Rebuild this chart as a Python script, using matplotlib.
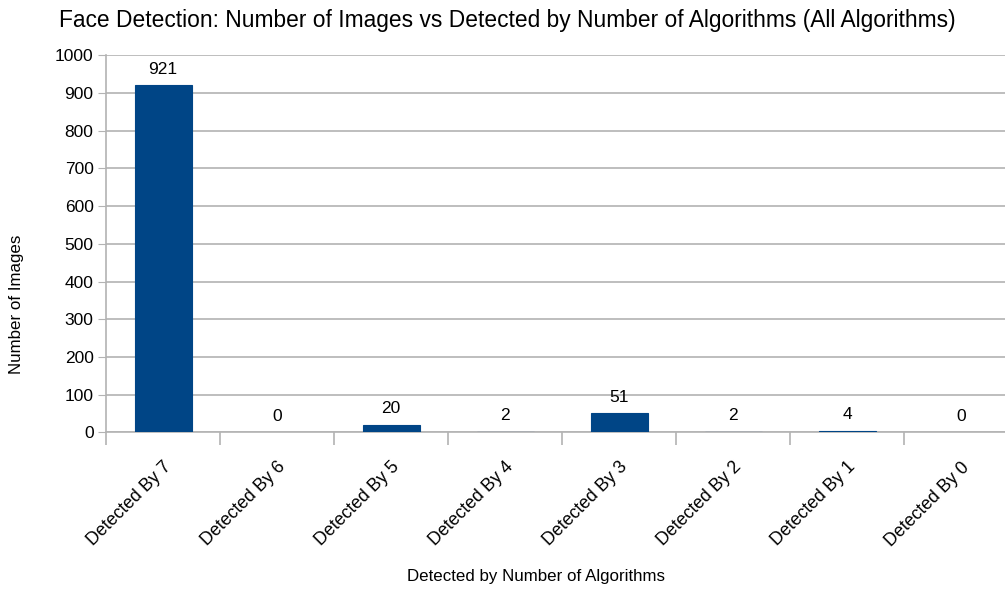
import numpy as np
import matplotlib.pyplot as plt

plt.rcParams['font.family'] = ['Liberation Sans', 'DejaVu Sans']

# Data
categories = ['Detected By 7', 'Detected By 6', 'Detected By 5', 'Detected By 4',
              'Detected By 3', 'Detected By 2', 'Detected By 1', 'Detected By 0']
counts = [921, 0, 20, 2, 51, 2, 4, 0]

bar_color = '#004586'
grid_color = '#b3b3b3'

fig = plt.figure(figsize=(10.05, 5.91), dpi=100)
ax = fig.add_axes([106 / 1005, 1 - 432.3 / 591, 912 / 1005, 377 / 591])

x = np.arange(len(categories))
# thin edge so the tiny bars (2, 4) stay visible as in the original
ax.bar(x, counts, width=0.5, color=bar_color, edgecolor=bar_color,
       linewidth=[0.8 if v > 0 else 0 for v in counts], zorder=3)

ax.set_xlim(-0.5, len(categories) - 0.5)
ax.set_ylim(0, 1000)
ax.set_yticks(np.arange(0, 1001, 100))
ax.tick_params(axis='y', labelsize=12.5, length=6, color=grid_color, pad=3)
ax.yaxis.grid(True, color=grid_color, linewidth=1.2, zorder=0)

# category labels at centres, tick marks at boundaries
ax.set_xticks(x)
ax.set_xticklabels(categories, rotation=45, ha='right', rotation_mode='anchor', fontsize=12.8)
ax.tick_params(axis='x', length=0, pad=19)
ax.set_xticks(np.arange(-0.5, len(categories), 1), minor=True)
ax.tick_params(axis='x', which='minor', length=9, color=grid_color, width=1.2)

for s in ['top', 'right']:
    ax.spines[s].set_visible(False)
for s in ['left', 'bottom']:
    ax.spines[s].set_color(grid_color)
    ax.spines[s].set_linewidth(1.2)

# value labels
for xi, v in zip(x, counts):
    ax.annotate(str(v), (xi, v), xytext=(0, 6), textcoords='offset points',
                ha='center', va='bottom', fontsize=12.5)

fig.text(507 / 1005, 1 - 20 / 591, 'Face Detection: Number of Images vs Detected by Number of Algorithms (All Algorithms)',
         ha='center', va='center', fontsize=16.4)
fig.text(535.5 / 1005, 1 - 577 / 591, 'Detected by Number of Algorithms',
         ha='center', va='center', fontsize=12.2)
fig.text(17 / 1005, 1 - 304 / 591, 'Number of Images', rotation=90,
         ha='center', va='center', fontsize=12.2)

fig.savefig('out.png', dpi=100)
